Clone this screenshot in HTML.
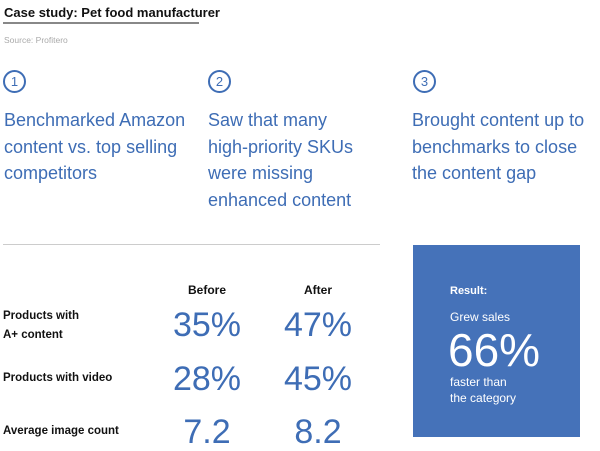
<!DOCTYPE html>
<html><head><meta charset="utf-8"><style>
body{margin:0;width:600px;height:446px;background:#fff;position:relative;overflow:hidden;font-family:"Liberation Sans",sans-serif}
.a{position:absolute;white-space:nowrap}
.step{color:#3e6db5;font-size:18px;line-height:26.5px}
.circ{position:absolute;width:19px;height:19px;border:2px solid #3e6db5;border-radius:50%;color:#3e6db5;font-size:13px;text-align:center;line-height:19px}
.lbl{font-size:11.5px;font-weight:bold;color:#111;line-height:19px}
.val{color:#3e6db5;font-size:34px;width:110px;text-align:center;line-height:36px}
.hdr{font-size:12px;font-weight:bold;color:#111;width:110px;text-align:center}
.w{color:#fff}
</style></head><body>
<div class="a" style="left:4px;top:5px;font-size:13px;font-weight:bold;color:#111">Case study: Pet food manufacturer</div>
<div class="a" style="left:3px;top:22px;width:196px;height:2px;background:#888"></div>
<div class="a" style="left:4px;top:35px;font-size:8.5px;color:#aaa">Source: Profitero</div>

<div class="circ" style="left:3px;top:70px">1</div>
<div class="circ" style="left:208px;top:70px">2</div>
<div class="circ" style="left:413px;top:70px">3</div>
<div class="a step" style="left:4px;top:107px">Benchmarked Amazon<br>content vs. top selling<br>competitors</div>
<div class="a step" style="left:208px;top:107px">Saw that many<br>high-priority SKUs<br>were missing<br>enhanced content</div>
<div class="a step" style="left:412px;top:107px">Brought content up to<br>benchmarks to close<br>the content gap</div>

<div class="a" style="left:3px;top:244px;width:377px;height:1px;background:#ccc"></div>

<div class="a hdr" style="left:152px;top:283px">Before</div>
<div class="a hdr" style="left:263px;top:283px">After</div>

<div class="a lbl" style="left:3px;top:307px">Products with<br>A+ content</div>
<div class="a lbl" style="left:3px;top:369px">Products with video</div>
<div class="a lbl" style="left:3px;top:422px">Average image count</div>

<div class="a val" style="left:152px;top:307px">35%</div>
<div class="a val" style="left:263px;top:307px">47%</div>
<div class="a val" style="left:152px;top:361px">28%</div>
<div class="a val" style="left:263px;top:361px">45%</div>
<div class="a val" style="left:152px;top:414px">7.2</div>
<div class="a val" style="left:263px;top:414px">8.2</div>

<div class="a" style="left:413px;top:245px;width:167px;height:192px;background:#4572b9"></div>
<div class="a w" style="left:450px;top:285px;font-size:11px;font-weight:bold">Result:</div>
<div class="a w" style="left:450px;top:310px;font-size:12px">Grew sales</div>
<div class="a w" style="left:448px;top:324px;font-size:46px;line-height:52px">66%</div>
<div class="a w" style="left:450px;top:374px;font-size:12px;line-height:16px">faster than<br>the category</div>
</body></html>
